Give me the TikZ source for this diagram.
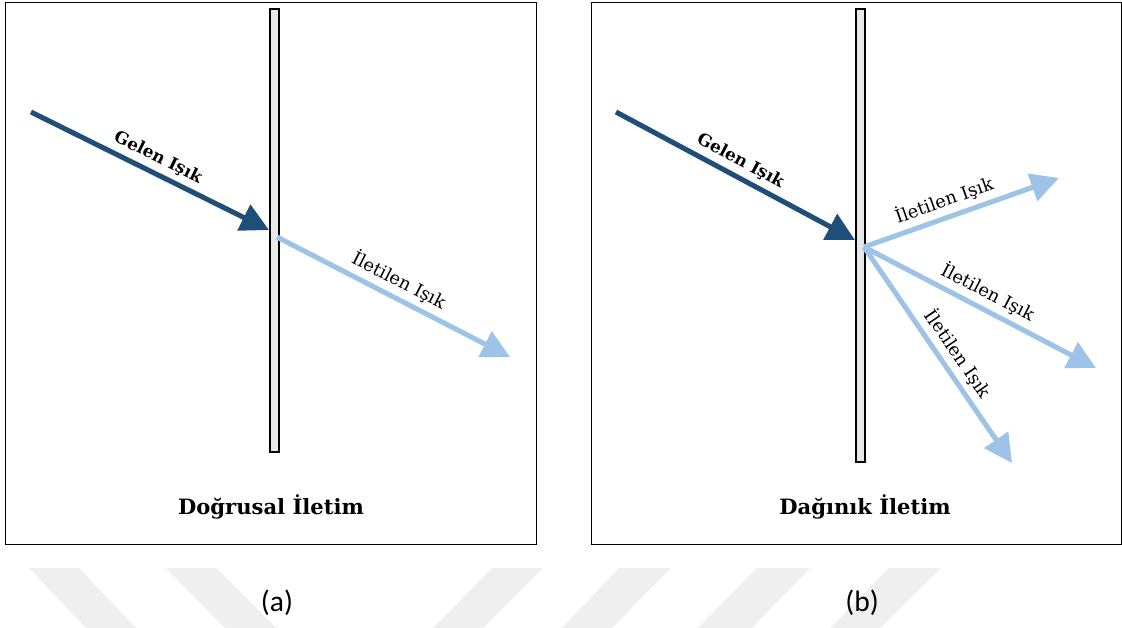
\documentclass[tikz,border=0pt]{standalone}
\usepackage{fontspec}
\setmainfont{DejaVu Serif}
\newfontfamily\tagfont{Carlito}
\usetikzlibrary{arrows.meta}
\definecolor{darkray}{HTML}{1F4E79}
\definecolor{lightray}{HTML}{9DC3E6}
\definecolor{platefill}{HTML}{E8E8E8}
\definecolor{wmgray}{HTML}{EFEFEF}
\begin{document}
\begin{tikzpicture}[x=0.025cm,y=-0.025cm,>={Triangle[length=20pt,width=20pt]},
  ray/.style={line width=3.6pt,->},
  raylabel/.style={sloped,above=1.5pt,inner sep=2pt,font=\fontsize{12.7}{15}\selectfont},
  boldlabel/.style={raylabel,font=\bfseries\fontsize{12}{14}\selectfont},
  frame/.style={draw,line width=0.7pt},
  plate/.style={draw,fill=platefill,line width=1.4pt},
  title/.style={anchor=base,font=\bfseries\fontsize{15}{18}\selectfont},
  tag/.style={font=\tagfont\fontsize{21}{25}\selectfont}]
\useasboundingbox (0,0) rectangle (1122,628);
% watermark
\foreach \a/\b/\c/\d in {29/79/136/86,166/216/276/225,492/543/483/433,619/671/612/562,757/810/752/698,889/941/880/830}
  \fill[wmgray](\a,568)--(\b,568)--(\c,628)--(\d,628)--cycle;
% frames and plates
\draw[frame](5,2)rectangle(536,544);
\draw[frame](591,2)rectangle(1121,544);
\draw[plate](270,9)rectangle(279,452);
\draw[plate](856,9)rectangle(865,462);
% (a)
\coordinate (srcA) at (31,112);
\coordinate (hitA) at (269,230);
\coordinate (exitA) at (277,237);
\coordinate (endA) at (510,357);
\draw[ray,darkray](srcA)--(hitA)node[boldlabel,pos=.505,text=black]{Gelen Işık};
\draw[ray,lightray](exitA)--(endA)node[raylabel,pos=.49,text=black]{İletilen Işık};
% (b)
\coordinate (srcB) at (616,112);
\coordinate (hitB) at (855,240);
\coordinate (exitB) at (864,247);
\coordinate (upB) at (1059,178);
\coordinate (midB) at (1096,368);
\coordinate (lowB) at (1012,463);
\draw[ray,darkray](srcB)--(hitB)node[boldlabel,pos=.49,text=black]{Gelen Işık};
\draw[ray,lightray](exitB)--(upB)node[raylabel,pos=.44,text=black]{İletilen Işık};
\draw[ray,lightray](exitB)--(midB)node[raylabel,pos=.50,text=black]{İletilen Işık};
\draw[ray,lightray](exitB)--(lowB)node[raylabel,pos=.54,text=black]{İletilen Işık};
% captions
\node[title](titleA) at (271,514){Doğrusal İletim};
\node[title](titleB) at (865,514){Dağınık İletim};
\node[tag](tagA) at (277,603){(a)};
\node[tag](tagB) at (862,603){(b)};
\end{tikzpicture}
\end{document}
